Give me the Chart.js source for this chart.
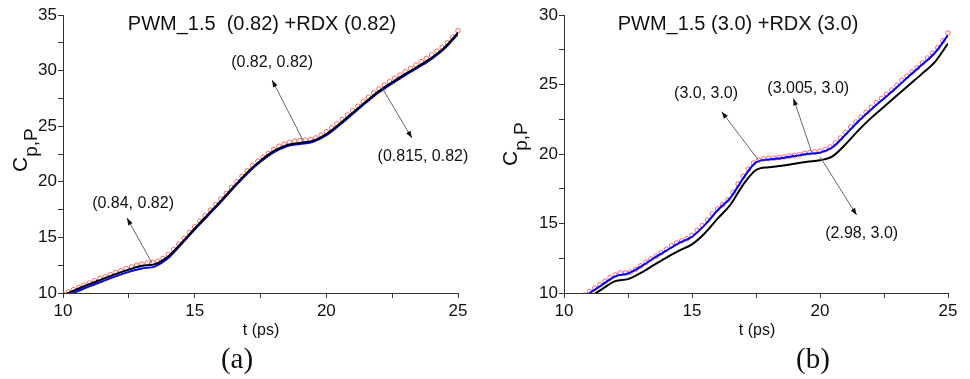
<!DOCTYPE html>
<html>
<head>
<meta charset="utf-8">
<script src="https://cdn.jsdelivr.net/npm/chart.js@4"></script>
<style>
  body { margin: 0; background: #fff; }
  .wrap { position: relative; width: 970px; height: 379px; }
  canvas { position: absolute; top: 0; }
</style>
</head>
<body>
<div class="wrap">
  <canvas id="chartA" width="485" height="379" style="left:0"></canvas>
  <canvas id="chartB" width="485" height="379" style="left:485px"></canvas>
</div>
<script>
// time grid for the lines (ps) and for the circle markers
const tLine = [10, 10.5, 11, 11.5, 12, 12.5, 13, 13.5, 14, 14.5, 15, 15.5, 16, 16.5, 17, 17.5,
  18, 18.5, 19, 19.5, 20, 20.5, 21, 21.5, 22, 22.5, 23, 23.5, 24, 24.5, 25];
const tMark = [10, 10.2, 10.4, 10.6, 10.8, 11, 11.2, 11.4, 11.6, 11.8,
  12, 12.2, 12.4, 12.6, 12.8, 13, 13.2, 13.4, 13.6, 13.8,
  14, 14.2, 14.4, 14.6, 14.8, 15, 15.2, 15.4, 15.6, 15.8,
  16, 16.2, 16.4, 16.6, 16.8, 17, 17.2, 17.4, 17.6, 17.8,
  18, 18.2, 18.4, 18.6, 18.8, 19, 19.2, 19.4, 19.6, 19.8,
  20, 20.2, 20.4, 20.6, 20.8, 21, 21.2, 21.4, 21.6, 21.8,
  22, 22.2, 22.4, 22.6, 22.8, 23, 23.2, 23.4, 23.6, 23.8,
  24, 24.2, 24.4, 24.6, 24.8, 25];

// panel (a): PWM_1.5 (0.82) + RDX (0.82)
const aBlack = [9.8, 10.3, 10.8, 11.25, 11.7, 12.1, 12.45, 12.6, 13.3, 14.5, 15.8, 17.05, 18.3, 19.6,
  20.85, 21.9, 22.75, 23.3, 23.5, 23.7, 24.3, 25.2, 26.2, 27.2, 28.15, 28.95, 29.7, 30.4, 31.15, 32.1, 33.4];
const aBlue = [9.6, 10.1, 10.6, 11.05, 11.5, 11.9, 12.2, 12.4, 13.15, 14.4, 15.7, 16.95, 18.2, 19.5,
  20.75, 21.8, 22.65, 23.2, 23.4, 23.6, 24.2, 25.1, 26.1, 27.1, 28.05, 28.85, 29.6, 30.3, 31.05, 32.0, 33.3];
const aRed = [9.9, 10.1, 10.3, 10.5, 10.7, 10.9, 11.1, 11.3, 11.45, 11.65,
  11.85, 12.0, 12.2, 12.35, 12.5, 12.6, 12.7, 12.75, 12.85, 13.1,
  13.45, 13.9, 14.4, 14.9, 15.45, 15.95, 16.45, 16.95, 17.45, 17.95,
  18.45, 18.95, 19.5, 20.0, 20.5, 21.0, 21.45, 21.85, 22.2, 22.55,
  22.9, 23.2, 23.4, 23.55, 23.65, 23.7, 23.75, 23.8, 23.95, 24.2,
  24.5, 24.85, 25.2, 25.6, 26.0, 26.4, 26.8, 27.2, 27.6, 28.0,
  28.35, 28.7, 29.0, 29.3, 29.6, 29.9, 30.2, 30.5, 30.8, 31.1,
  31.4, 31.75, 32.1, 32.5, 33.0, 33.6];
const aTicksY = [10, 15, 20, 25, 30, 35];

// panel (b): PWM_1.5 (3.0) + RDX (3.0)
const bBlack = [8.5, 9.1, 9.7, 10.3, 10.85, 11.0, 11.45, 12.0, 12.55, 13.05, 13.5, 14.3, 15.35, 16.35,
  17.8, 18.85, 19.05, 19.15, 19.3, 19.45, 19.55, 19.85, 20.7, 21.7, 22.6, 23.4, 24.2, 25.0, 25.8, 26.65, 27.95];
const bBlue = [8.8, 9.4, 10.0, 10.6, 11.2, 11.4, 11.9, 12.5, 13.05, 13.6, 14.05, 14.9, 15.95, 16.85,
  18.25, 19.4, 19.6, 19.7, 19.85, 20.0, 20.1, 20.5, 21.4, 22.35, 23.2, 24.0, 24.8, 25.65, 26.45, 27.3, 28.55];
const bRed = [8.85, 9.1, 9.35, 9.6, 9.85, 10.1, 10.35, 10.6, 10.85, 11.1,
  11.3, 11.45, 11.45, 11.5, 11.7, 11.95, 12.2, 12.45, 12.65, 12.9,
  13.15, 13.4, 13.6, 13.75, 13.9, 14.15, 14.5, 14.85, 15.25, 15.7,
  16.05, 16.35, 16.7, 17.25, 17.85, 18.4, 18.9, 19.35, 19.55, 19.65,
  19.7, 19.7, 19.75, 19.8, 19.85, 19.9, 19.95, 20.05, 20.1, 20.15,
  20.2, 20.3, 20.5, 20.8, 21.15, 21.55, 21.95, 22.3, 22.65, 23.0,
  23.35, 23.7, 24.0, 24.3, 24.6, 24.95, 25.3, 25.6, 25.9, 26.2,
  26.55, 26.9, 27.25, 27.65, 28.15, 28.7];
const bTicksY = [10, 15, 20, 25, 30];

const xTicks = [10, 15, 20, 25];

const SANS = "'Liberation Sans', Arial, sans-serif";
const SERIF = "'Liberation Serif', 'Times New Roman', serif";

function pts(ts, vs) {
  return ts.map((t, i) => ({ x: t, y: vs[i] }));
}

// titles, axis titles, panel letter and arrow annotations
const decorPlugin = {
  id: "decor",
  afterDraw(chart, args, o) {
    const ctx = chart.ctx;
    const xs = chart.scales.x, ys = chart.scales.y;
    ctx.save();
    ctx.fillStyle = "#111";
    ctx.textAlign = "center";
    ctx.textBaseline = "middle";

    ctx.font = "20px " + SANS;
    ctx.fillText(o.title, o.titleX, 24);

    ctx.font = "16px " + SANS;
    ctx.fillText("t (ps)", o.xTitleX, 331);

    ctx.font = "29px " + SERIF;
    ctx.fillText(o.panel, o.panelX, 360);

    // y axis title C_{p,P}
    ctx.save();
    ctx.translate(o.yTitleX, o.yTitleY);
    ctx.rotate(-Math.PI / 2);
    ctx.textAlign = "left";
    ctx.textBaseline = "alphabetic";
    ctx.font = "21px " + SANS;
    ctx.fillText("C", 0, 0);
    const w = ctx.measureText("C").width;
    ctx.font = "19px " + SANS;
    ctx.fillText("p,P", w, 10);
    ctx.restore();

    // annotations with arrows
    o.notes.forEach(n => {
      const x0 = xs.getPixelForValue(n.from[0]), y0 = ys.getPixelForValue(n.from[1]);
      const x1 = xs.getPixelForValue(n.to[0]), y1 = ys.getPixelForValue(n.to[1]);
      ctx.strokeStyle = "#666";
      ctx.lineWidth = 1;
      ctx.beginPath();
      ctx.moveTo(x0, y0);
      ctx.lineTo(x1, y1);
      ctx.stroke();
      const ang = Math.atan2(y1 - y0, x1 - x0);
      ctx.fillStyle = "#111";
      ctx.beginPath();
      ctx.moveTo(x1, y1);
      ctx.lineTo(x1 - 7 * Math.cos(ang) + 2.5 * Math.sin(ang), y1 - 7 * Math.sin(ang) - 2.5 * Math.cos(ang));
      ctx.lineTo(x1 - 7 * Math.cos(ang) - 2.5 * Math.sin(ang), y1 - 7 * Math.sin(ang) + 2.5 * Math.cos(ang));
      ctx.closePath();
      ctx.fill();
      ctx.font = "16px " + SANS;
      ctx.textAlign = "center";
      ctx.textBaseline = "middle";
      ctx.fillText(n.text, xs.getPixelForValue(n.at[0]), ys.getPixelForValue(n.at[1]));
    });
    ctx.restore();
  }
};

function makeChart(id, cfg) {
  const axisCommon = {
    type: "linear",
    border: { display: true, color: "#333", width: 1 },
    grid: { drawOnChartArea: false, drawTicks: true, tickLength: 5, tickColor: "#333" },
  };
  return new Chart(document.getElementById(id), {
    type: "line",
    data: {
      datasets: [
        {
          data: pts(tLine, cfg.black), borderColor: "#000", borderWidth: 2,
          pointRadius: 0, cubicInterpolationMode: "monotone", clip: { left: 0, top: 0, right: 0, bottom: 0 }
        },
        {
          data: pts(tLine, cfg.blue), borderColor: "#0000ff", borderWidth: 2,
          pointRadius: 0, cubicInterpolationMode: "monotone", clip: { left: 0, top: 0, right: 0, bottom: 0 }
        },
        {
          data: pts(tMark, cfg.red), showLine: false, pointRadius: 2.3, pointBorderWidth: 1,
          pointBorderColor: "rgba(240,80,80,0.85)", pointBackgroundColor: "rgba(255,255,255,0)",
          clip: { left: 0, top: 3, right: 3, bottom: 0 }
        }
      ]
    },
    options: {
      responsive: false,
      animation: false,
      events: [],
      layout: { padding: { left: 0, top: 15, right: cfg.padRight, bottom: 0 } },
      plugins: {
        legend: { display: false },
        tooltip: { enabled: false },
        decor: cfg.decor
      },
      scales: {
        x: Object.assign({}, axisCommon, {
          min: 10, max: 25,
          ticks: {
            stepSize: 2.5, padding: 3, color: "#111", maxRotation: 0,
            font: { family: SANS, size: 17 },
            callback: v => (xTicks.includes(v) ? v : "")
          },
          afterFit: s => { s.height = 86; }
        }),
        y: Object.assign({}, axisCommon, {
          min: cfg.yMin, max: cfg.yMax,
          ticks: {
            stepSize: 2.5, padding: 1, color: "#111",
            font: { family: SANS, size: 17 },
            callback: v => (cfg.ticksY.includes(v) ? v : "")
          },
          afterFit: s => { s.width = cfg.yWidth; }
        })
      }
    },
    plugins: [decorPlugin]
  });
}

makeChart("chartA", {
  black: aBlack, blue: aBlue, red: aRed, ticksY: aTicksY,
  yMin: 10, yMax: 35, yWidth: 63, padRight: 27,
  decor: {
    title: "PWM_1.5  (0.82) +RDX (0.82)", titleX: 262,
    xTitleX: 261, panel: "(a)", panelX: 237, yTitleX: 27, yTitleY: 172,
    notes: [
      { text: "(0.84, 0.82)", at: [12.66, 18.0], from: [13.38, 12.7], to: [12.43, 16.74] },
      { text: "(0.82, 0.82)", at: [17.94, 30.68], from: [19.11, 23.76], to: [17.94, 29.15] },
      { text: "(0.815, 0.82)", at: [23.67, 22.23], from: [22.12, 28.43], to: [23.25, 23.94] }
    ]
  }
});

makeChart("chartB", {
  black: bBlack, blue: bBlue, red: bRed, ticksY: bTicksY,
  yMin: 10, yMax: 30, yWidth: 79, padRight: 22,
  decor: {
    title: "PWM_1.5 (3.0) +RDX (3.0)", titleX: 253,
    xTitleX: 272, panel: "(b)", panelX: 328, yTitleX: 32, yTitleY: 166,
    notes: [
      { text: "(3.0, 3.0)", at: [15.55, 24.32], from: [17.59, 19.57], to: [16.16, 23.04] },
      { text: "(3.005, 3.0)", at: [19.54, 24.72], from: [19.67, 20.17], to: [18.96, 24.0] },
      { text: "(2.98, 3.0)", at: [21.63, 14.29], from: [20.0, 19.8], to: [21.43, 15.61] }
    ]
  }
});
</script>
</body>
</html>
